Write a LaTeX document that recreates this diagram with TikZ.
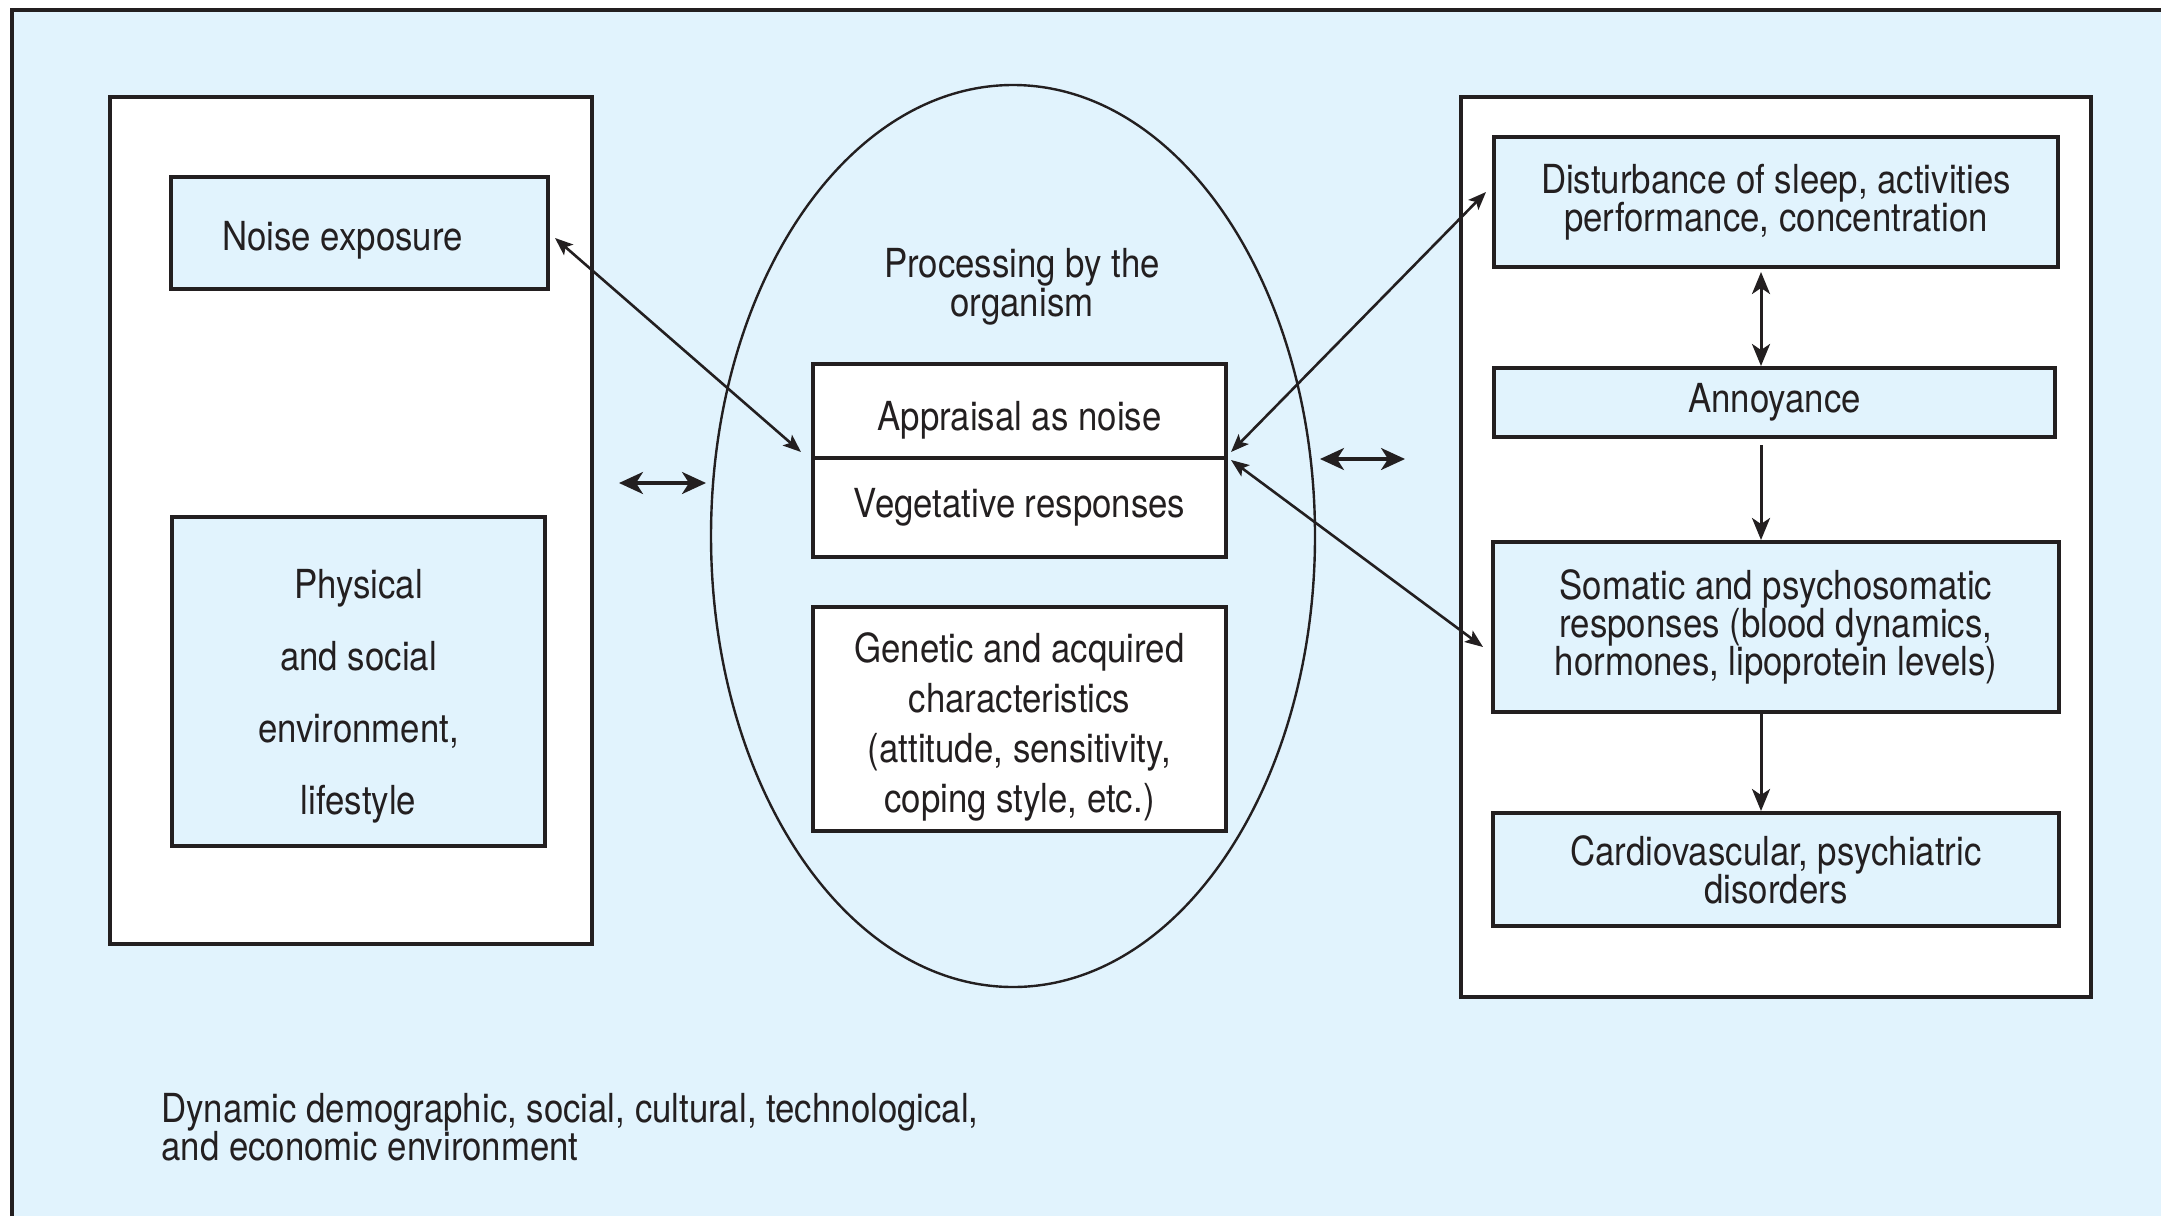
\documentclass[tikz,border=0pt]{standalone}
\usepackage{fontspec}
\setmainfont{TeX Gyre Heros}[FakeStretch=0.87]
\usetikzlibrary{arrows.meta,calc,shapes.geometric}
\definecolor{paleblue}{HTML}{E1F3FD}
\definecolor{ink}{HTML}{231F20}

\begin{document}
\begin{tikzpicture}[
    x = 0.5pt, y = -0.5pt,
    every node/.style = {text=ink, font=\fontsize{20}{19}\selectfont},
    panel/.style = {draw=ink, line width=2pt, fill=white, inner sep=0pt},
    box/.style = {draw=ink, line width=2pt, fill=paleblue, align=center, inner sep=0pt},
    whitebox/.style = {box, fill=white},
    link/.style = {draw=ink, line width=1.3pt, >={Stealth[length=9pt,width=7pt,inset=2pt]}, <->},
    flow/.style = {draw=ink, line width=1.5pt, >={Stealth[length=11pt,width=9pt,inset=3pt]}},
    twoway/.style = {draw=ink, line width=1.6pt, >={Stealth[length=12pt,width=11pt,inset=3.5pt]}, <->}]
      \useasboundingbox (0,0) rectangle (2161,1216);
      \fill [paleblue] (12,10) rectangle (2161,1216);
      \draw [ink, line width=2pt] (12,1216) |- (2161,10);
      % left side
      \node [panel, minimum width=241pt, minimum height=423.5pt] (leftpanel) at (351,520.5) {};
      \node [box, minimum width=188.5pt, minimum height=56pt] (noise) at (359.5,233)
        {\rule{0pt}{22pt}Noise exposure\hspace*{17pt}};
      \node [box, minimum width=186.5pt, minimum height=164.5pt, font=\fontsize{20}{36}\selectfont] (physical) at (358.5,681.5)
        {\rule{0pt}{29pt}Physical\\and social\\environment,\\lifestyle};
      % organism
      \node [draw=ink, line width=1.2pt, ellipse, inner sep=0pt, minimum width=302pt, minimum height=451pt] (organism) at (1013,536) {};
      \node [align=center, font=\fontsize{20}{17.5}\selectfont] (processing) at (1022,287) {Processing by the\\organism};
      \node [whitebox, minimum width=206.5pt, minimum height=47pt] (appraisal) at (1019.5,411)
        {\rule{0pt}{24pt}Appraisal as noise};
      \node [whitebox, minimum width=206.5pt, minimum height=49.5pt] (vegetative) at (1019.5,507.5) {Vegetative responses};
      \node [whitebox, minimum width=206.5pt, minimum height=112pt, font=\fontsize{20}{25}\selectfont] (genetic) at (1019.5,719)
        {\rule{0pt}{22.5pt}Genetic and acquired\\characteristics\\(attitude, sensitivity,\\coping style, etc.)};
      % right side
      \node [panel, minimum width=315pt, minimum height=450pt] (rightpanel) at (1776,547) {};
      \node [box, minimum width=282pt, minimum height=65pt] (disturb) at (1776,202) {Disturbance of sleep, activities\\performance, concentration};
      \node [box, minimum width=280.5pt, minimum height=34.5pt] (annoy) at (1774.5,402.5) {Annoyance};
      \node [box, minimum width=283pt, minimum height=85pt] (somatic) at (1776,627)
        {Somatic and psychosomatic\\responses (blood dynamics,\\hormones, lipoprotein levels)};
      \node [box, minimum width=283pt, minimum height=56.5pt] (cardio) at (1776,869.5) {Cardiovascular, psychiatric\\disorders};
      \node [anchor=north west, align=left, inner sep=0pt] (environment) at (161,1093)
        {Dynamic demographic, social, cultural, technological,\\and economic environment};
      % connectors
      \draw [link] ($(noise.east)+(5,5)$) -- ($(appraisal.south west)+(-10,-8)$);
      \draw [link] ($(disturb.west)+(-6,-10)$) -- ($(appraisal.south east)+(3,-8)$);
      \draw [link] ($(vegetative.north east)+(3,4)$) -- ($(somatic.west)+(-8,20)$);
      \coordinate (vline) at (1761,0);
      \draw [flow, <->] ($(disturb.south -| vline)+(0,3)$) -- (annoy.north -| vline);
      \draw [flow, ->] ($(annoy.south -| vline)+(0,6)$) -- (somatic.north -| vline);
      \draw [flow, ->] (somatic.south -| vline) -- (cardio.north -| vline);
      \coordinate (leftA) at (619,483);
      \coordinate (leftB) at (706,483);
      \coordinate (rightA) at (1320,459);
      \coordinate (rightB) at (1405,459);
      \draw [twoway] (leftA) -- (leftB);
      \draw [twoway] (rightA) -- (rightB);
    \end{tikzpicture}
\end{document}
